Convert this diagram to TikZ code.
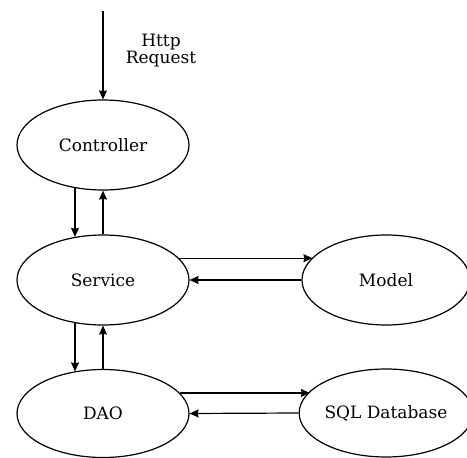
\documentclass[tikz,border=0pt]{standalone}
\usepackage{fontspec}
\setmainfont{DejaVu Serif}
\usetikzlibrary{shapes.geometric,arrows.meta}
\tikzset{
  label font/.style={font=\fontsize{17}{14}\selectfont},
  layer/.style={draw, ellipse, line width=1.2pt, inner sep=0pt,
    minimum width=172pt, minimum height=90pt, label font},
  side/.style={layer, minimum width=168pt},
  flow/.style={line width=1.2pt, -{Stealth[length=9pt,width=8pt,inset=1pt]}}
}
\begin{document}
\begin{tikzpicture}[x=1pt,y=-1pt]
  \useasboundingbox (0,0) rectangle (467,458);

  % layers of the application
  \node[layer] (ctrl) at (103,145) {Controller};
  \node[layer] (svc)  at (103,280) {Service};
  \node[layer, minimum height=88pt] (dao) at (103,413.5) {DAO};
  \node[side] (model) at (386,280) {Model};
  \node[side, minimum height=88pt] (sql) at (386,413) {SQL Database};

  % incoming request
  \coordinate (req) at (103,11);
  \draw[flow] (req) -- (ctrl.north);
  \node[align=center, label font] (reqlabel) at (161,51) {Http\\Request};

  % controller <-> service
  \draw[flow] (ctrl.237) -- (ctrl.237 |- svc.123);
  \draw[flow] (svc.north) -- (ctrl.south);

  % service <-> dao
  \draw[flow] (svc.237) -- (svc.237 |- dao.124);
  \draw[flow] (dao.north) -- (svc.south);

  % service <-> model
  \draw[flow] (svc.16.3) -- (svc.16.3 -| model.163.7);
  \draw[flow] (model.west) -- (svc.east);

  % dao <-> database
  \draw[flow] (dao.15.1) -- (dao.15.1 -| sql.164.9);
  \draw[flow] (sql.west) -- (dao.east);
\end{tikzpicture}
\end{document}
